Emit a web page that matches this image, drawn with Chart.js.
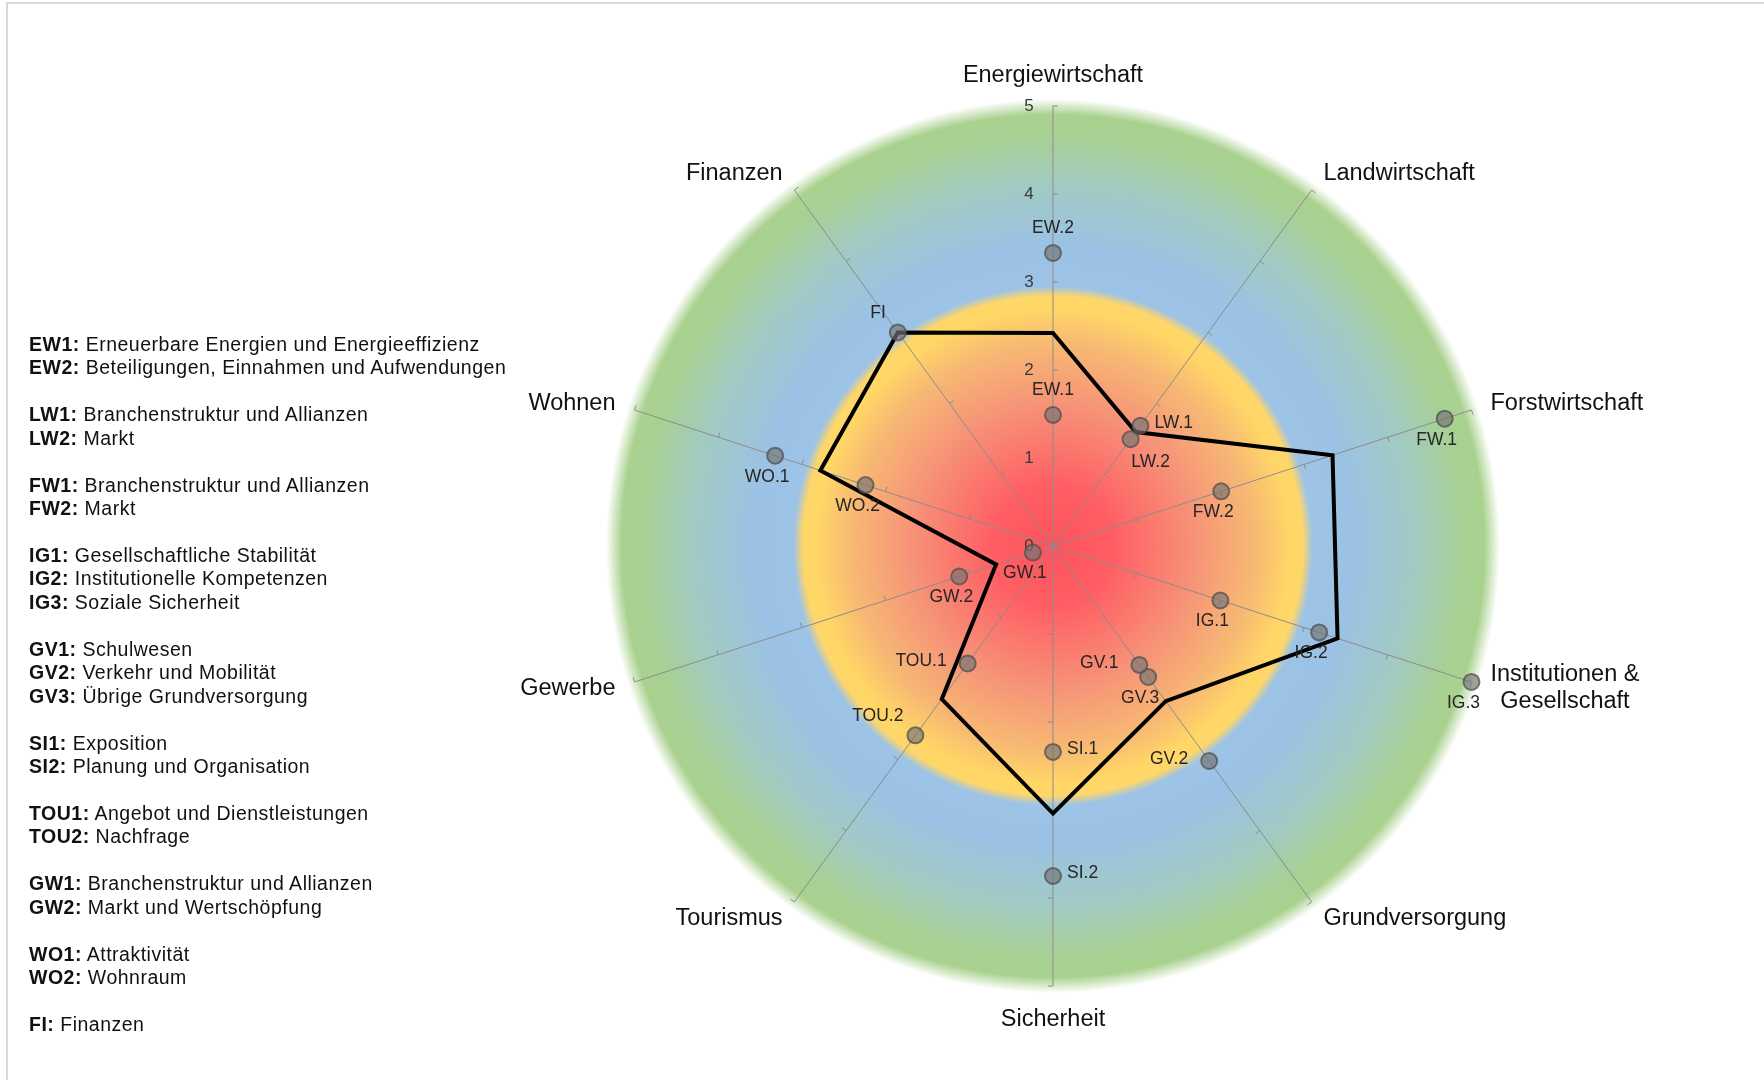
<!DOCTYPE html>
<html>
<head>
<meta charset="utf-8">
<script src="https://cdn.jsdelivr.net/npm/chart.js@4.4.1/dist/chart.umd.min.js"></script>
<style>
  body { margin: 0; background: #fff; }
  #wrap { position: relative; width: 1764px; height: 1080px; overflow: hidden; }
  #frame { position: absolute; left: 6px; top: 2px; width: 1800px; height: 1200px;
           border-left: 2px solid #d9d9d9; border-top: 2px solid #d9d9d9; }
  #legend { position: absolute; left: 29px; top: 333px; font-family: "Liberation Sans", Arial, sans-serif;
            font-size: 19.5px; line-height: 23.45px; letter-spacing: 0.5px; color: #111; white-space: nowrap; }
  #legend .gap { height: 23.45px; }
  canvas { position: absolute; left: 0; top: 0; }
</style>
</head>
<body>
<div id="wrap">
  <div id="frame"></div>
  <canvas id="radar" width="1764" height="1080"></canvas>
  <div id="legend"></div>
</div>
<script>
// axes of the radar, clockwise from the top
const categories = ['Energiewirtschaft', 'Landwirtschaft', 'Forstwirtschaft', ['Institutionen &', 'Gesellschaft'],
  'Grundversorgung', 'Sicherheit', 'Tourismus', 'Gewerbe', 'Wohnen', 'Finanzen'];
const scaleTicks = [0, 1, 2, 3, 4, 5];

// mean per category (black line)
const meanScores = [2.42, 1.60, 3.34, 3.40, 2.18, 3.04, 2.15, 0.68, 2.78, 3.00];

// sub indicators (grey points)
const ind1Names = ['EW.1', 'LW.1', 'FW.1', 'IG.1', 'GV.1', 'SI.1', 'TOU.1', 'GW.1', 'WO.1', 'FI'];
const ind1Scores = [1.49, 1.69, 4.68, 2.00, 1.67, 2.34, 1.65, 0.24, 3.32, 3.00];
const ind2Names = ['EW.2', 'LW.2', 'FW.2', 'IG.2', 'GV.2', 'SI.2', 'TOU.2', 'GW.2', 'WO.2', null];
const ind2Scores = [3.33, 1.50, 2.01, 3.18, 3.02, 3.75, 2.66, 1.12, 2.24, null];
const ind3Names = [null, null, null, 'IG.3', 'GV.3', null, null, null, null, null];
const ind3Scores = [null, null, null, 5.00, 1.84, null, null, null, null, null];

// where each point label sits relative to its point
const ind1Place = ['top', 'right', 'bottom', 'bottom', 'left', 'right', 'left', 'bottom', 'bottom', 'topLeft'];
const ind2Place = ['top', 'bottomRight', 'bottom', 'bottom', 'left', 'right', 'topLeft', 'bottom', 'bottom', null];
const ind3Place = [null, null, null, 'bottom', 'bottom', null, null, null, null, null];

const legendGroups = [
  [['EW1', 'Erneuerbare Energien und Energieeffizienz'], ['EW2', 'Beteiligungen, Einnahmen und Aufwendungen']],
  [['LW1', 'Branchenstruktur und Allianzen'], ['LW2', 'Markt']],
  [['FW1', 'Branchenstruktur und Allianzen'], ['FW2', 'Markt']],
  [['IG1', 'Gesellschaftliche Stabilität'], ['IG2', 'Institutionelle Kompetenzen'], ['IG3', 'Soziale Sicherheit']],
  [['GV1', 'Schulwesen'], ['GV2', 'Verkehr und Mobilität'], ['GV3', 'Übrige Grundversorgung']],
  [['SI1', 'Exposition'], ['SI2', 'Planung und Organisation']],
  [['TOU1', 'Angebot und Dienstleistungen'], ['TOU2', 'Nachfrage']],
  [['GW1', 'Branchenstruktur und Allianzen'], ['GW2', 'Markt und Wertschöpfung']],
  [['WO1', 'Attraktivität'], ['WO2', 'Wohnraum']],
  [['FI', 'Finanzen']]
];

const FONT = '"Liberation Sans", Arial, sans-serif';

// colour zones of the background disc, keyed on scale value
const zones = [
  [0, 'rgb(255,82,92)'], [0.7, 'rgb(255,95,100)'], [1.6, 'rgb(246,146,120)'], [2.3, 'rgb(247,185,115)'],
  [2.7, 'rgb(255,215,102)'], [2.84, 'rgb(255,214,105)'], [2.95, 'rgb(157,195,230)'], [3.4, 'rgb(155,194,228)'],
  [4.1, 'rgb(162,202,195)'], [4.65, 'rgb(168,208,148)'], [4.9, 'rgb(169,209,142)'], [5.08, 'rgba(169,209,142,0)']
];

const placeOffsets = {
  top: [0, -25, 'center'],
  bottom: [-8, 21, 'center'],
  bottomRight: [20, 23, 'center'],
  right: [14, -3, 'left'],
  left: [-21, -2, 'right'],
  topLeft: [-12, -19, 'right']
};

function buildLegend() {
  const box = document.getElementById('legend');
  let html = '';
  legendGroups.forEach((group, gi) => {
    if (gi > 0) html += '<div class="gap"></div>';
    group.forEach(([code, text]) => {
      html += '<div><b>' + code + ':</b> ' + text + '</div>';
    });
  });
  box.innerHTML = html;
}

const backdrop = {
  id: 'backdrop',
  beforeDraw(chart) {
    const s = chart.scales.r;
    const ctx = chart.ctx;
    const outer = s.getDistanceFromCenterForValue(zones[zones.length - 1][0]);
    const g = ctx.createRadialGradient(s.xCenter, s.yCenter, 0, s.xCenter, s.yCenter, outer);
    zones.forEach(([v, c]) => g.addColorStop(s.getDistanceFromCenterForValue(v) / outer, c));
    ctx.save();
    ctx.fillStyle = g;
    ctx.beginPath();
    ctx.arc(s.xCenter, s.yCenter, outer, 0, Math.PI * 2);
    ctx.fill();
    ctx.restore();
  },
  beforeDatasetsDraw(chart) {
    const s = chart.scales.r;
    const ctx = chart.ctx;
    ctx.save();
    // small tick marks on every axis
    ctx.strokeStyle = '#8a8a8a';
    ctx.lineWidth = 1;
    categories.forEach((c, i) => {
      scaleTicks.slice(1).forEach(v => {
        const p = s.getPointPositionForValue(i, v);
        ctx.beginPath();
        ctx.moveTo(p.x, p.y);
        ctx.lineTo(p.x - Math.sin(p.angle) * 5, p.y + Math.cos(p.angle) * 5);
        ctx.stroke();
      });
    });
    // tick labels left of the vertical axis
    ctx.fillStyle = '#3a3a3a';
    ctx.font = '17px ' + FONT;
    ctx.textAlign = 'center';
    ctx.textBaseline = 'middle';
    scaleTicks.forEach(v => {
      const p = s.getPointPositionForValue(0, v);
      ctx.fillText(String(v), p.x - 24, p.y);
    });
    // category labels
    ctx.fillStyle = '#111';
    ctx.font = '23.5px ' + FONT;
    categories.forEach((c, i) => {
      const lines = Array.isArray(c) ? c : [c];
      const probe = s.getPointPosition(i, s.drawingArea);
      const vertical = Math.abs(Math.cos(probe.angle)) < 0.05;
      let pad = 20;
      if (vertical) pad = Math.sin(probe.angle) < 0 ? 30 : 34;
      const p = s.getPointPosition(i, s.drawingArea + pad);
      const widths = lines.map(l => ctx.measureText(l).width);
      const w = Math.max(...widths);
      let cx = p.x;
      if (!vertical) cx = Math.cos(p.angle) > 0 ? p.x + w / 2 : p.x - w / 2;
      const lh = 27;
      lines.forEach((l, k) => {
        ctx.fillText(l, cx, p.y + (k - (lines.length - 1) / 2) * lh);
      });
    });
    ctx.restore();
  },
  afterDatasetsDraw(chart) {
    const ctx = chart.ctx;
    const sets = [[ind1Names, ind1Place], [ind2Names, ind2Place], [ind3Names, ind3Place]];
    ctx.save();
    ctx.fillStyle = '#262626';
    ctx.font = '17.5px ' + FONT;
    ctx.textBaseline = 'middle';
    sets.forEach(([names, places], k) => {
      const meta = chart.getDatasetMeta(k + 1);
      meta.data.forEach((pt, j) => {
        if (!names[j]) return;
        const o = placeOffsets[places[j]];
        ctx.textAlign = o[2];
        ctx.fillText(names[j], pt.x + o[0], pt.y + o[1]);
      });
    });
    ctx.restore();
  }
};

function pointSet(label, data) {
  return {
    label: label,
    data: data,
    showLine: false,
    borderWidth: 0,
    fill: false,
    pointRadius: 8,
    pointHoverRadius: 8,
    pointBackgroundColor: 'rgba(115,115,115,0.65)',
    pointBorderColor: 'rgba(80,80,80,0.75)',
    pointBorderWidth: 2,
    order: 1
  };
}

function makeChart() {
  buildLegend();
  const ctx = document.getElementById('radar');
  const configuration = {
    type: 'radar',
    data: {
      labels: categories,
      datasets: [
        { label: 'Mittelwert', data: meanScores, borderColor: '#000', borderWidth: 4, borderJoinStyle: 'miter',
          fill: false, pointRadius: 0, pointHoverRadius: 0, order: 2 },
        pointSet('Indikator 1', ind1Scores),
        pointSet('Indikator 2', ind2Scores),
        pointSet('Indikator 3', ind3Scores)
      ]
    },
    options: {
      responsive: false,
      animation: false,
      layout: { padding: { left: 612, right: 270, top: 106, bottom: 93 } },
      plugins: { legend: { display: false }, tooltip: { enabled: false } },
      scales: {
        r: {
          min: 0,
          max: 5,
          ticks: { display: false, stepSize: 1 },
          grid: { display: false },
          angleLines: { display: true, color: '#8c8c8c', lineWidth: 1 },
          pointLabels: { display: false }
        }
      }
    },
    plugins: [backdrop]
  };
  new Chart(ctx, configuration);
}

window.onload = function () {
  makeChart();
};
</script>
</body>
</html>
